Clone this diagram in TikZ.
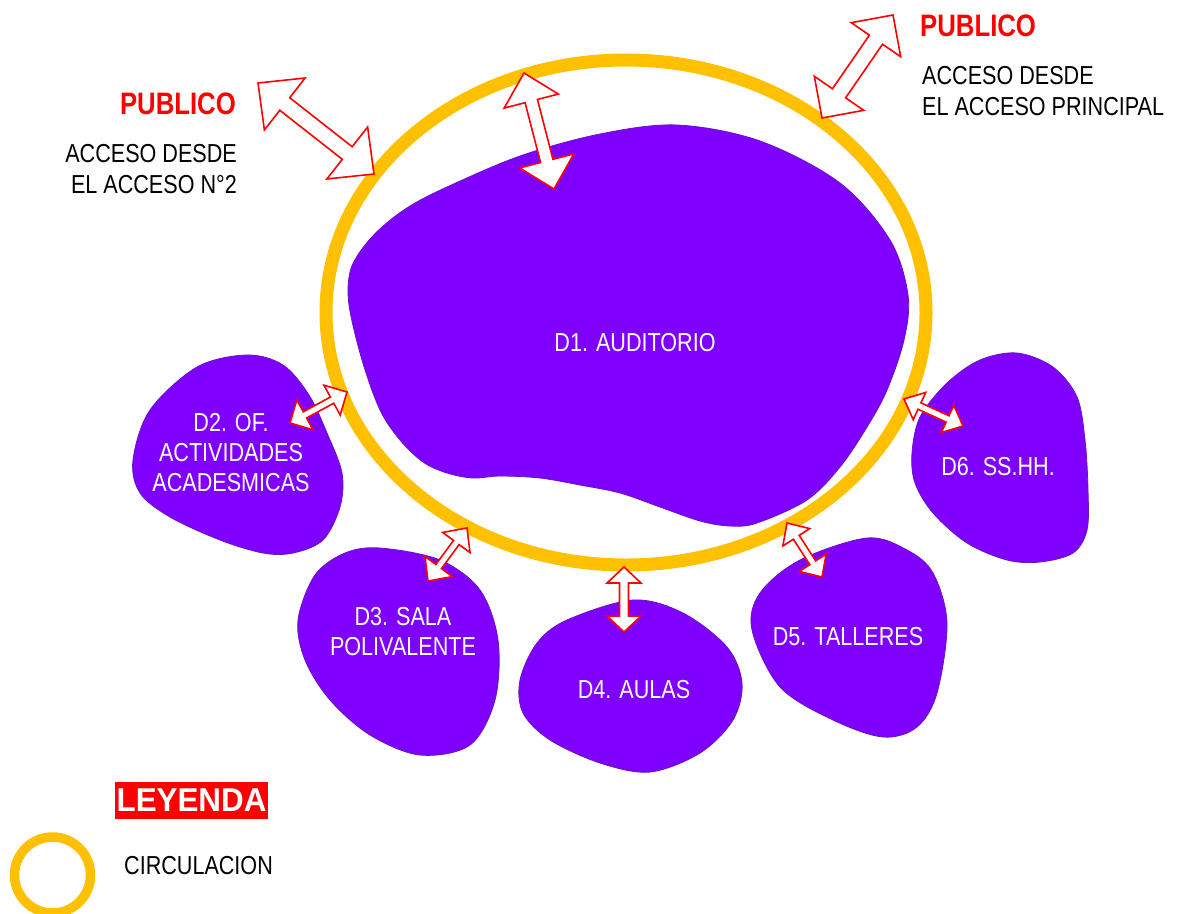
\documentclass[tikz,border=0pt]{standalone}
\usepackage{fontspec}
\setmainfont{Liberation Sans}[FakeStretch=0.83]
\newfontfamily\legfont{Liberation Sans}[FakeStretch=0.95]
\usetikzlibrary{calc}
\definecolor{blobfill}{RGB}{127,0,255}
\definecolor{blobedge}{RGB}{105,20,190}
\definecolor{ringcol}{RGB}{255,192,0}
\tikzset{
  blob/.style={fill=blobfill, draw=blobedge, line width=0.8pt},
  ringst/.style={draw=ringcol},
  dblarrow/.style={draw=red, fill=white, line width=1.6pt, line join=miter},
  lbl/.style={text=white, inner sep=0pt, align=center, font=\fontsize{26}{30}\selectfont},
  blk/.style={text=black, inner sep=0pt, font=\fontsize{26}{30.5}\selectfont},
  pub/.style={text=red, inner sep=0pt, font=\bfseries\fontsize{31}{34}\selectfont},
}
\newcommand{\blockarr}[5]{%
  \coordinate (#1-h) at ($(#1)!#3!(#2)$);
  \coordinate (#2-h) at ($(#2)!#3!(#1)$);
  \draw[dblarrow] (#1) -- ($(#1-h)!#4!90:(#2)$) -- ($(#1-h)!#5!90:(#2)$)
    -- ($(#2-h)!#5!-90:(#1)$) -- ($(#2-h)!#4!-90:(#1)$) -- (#2)
    -- ($(#2-h)!#4!90:(#1)$) -- ($(#2-h)!#5!90:(#1)$)
    -- ($(#1-h)!#5!-90:(#2)$) -- ($(#1-h)!#4!-90:(#2)$) -- cycle;}
\begin{document}
\begin{tikzpicture}[x=1pt, y=-1pt]
\path[use as bounding box] (0,0) rectangle (1177,913);

% D1 auditorio
\draw[blob] plot[smooth cycle, tension=0.55] coordinates {
 (677,125) (760,141) (840,183) (890,240) (908,295)
 (904,340) (887,390) (867,427) (840,467) (807,500) (757,523) (730,526)
 (700,521) (660,507) (620,493) (580,485) (540,478) (500,476) (473,478)
 (447,473) (423,462) (400,440) (380,410) (362,360)
 (349,305) (350,272) (362,249) (382,227) (410,206) (447,187) (520,156) (600,134)};
% D2
\draw[blob] plot[smooth cycle, tension=0.55] coordinates {
 (150,410) (197,367) (247,355) (283,365) (309,395) (327,433) (342,473)
 (340,507) (323,540) (293,553) (263,553) (220,540) (170,517) (140,493)
 (133,460)};
% D3
\draw[blob] plot[smooth cycle, tension=0.55] coordinates {
 (380,548) (440,560) (480,590) (498,640) (495,700) (470,745) (420,755)
 (370,735) (330,700) (305,660) (298,620) (315,575) (345,553)};
% D4
\draw[blob] plot[smooth cycle, tension=0.55] coordinates {
 (567,620) (633,600) (683,613) (727,647) (742,683) (733,720) (700,753)
 (650,772) (600,763) (550,740) (523,713) (520,680) (537,643)};
% D5
\draw[blob] plot[smooth cycle, tension=0.55] coordinates {
 (760,593) (800,560) (867,538) (907,550) (933,573) (947,623) (937,693)
 (917,727) (883,737) (833,720) (780,687) (752,630)};
% D6
\draw[blob] plot[smooth cycle, tension=0.55] coordinates {
 (947,383) (980,360) (1017,353) (1053,367) (1077,397) (1085,440) (1088,490)
 (1087,530) (1073,553) (1040,562) (1007,560) (967,543) (933,513) (915,483)
 (912,453) (920,417)};

% circulation ring
\draw[ringst, line width=13pt] (626,312.5) ellipse [x radius=300pt, y radius=252.5pt];

% labels
\node[lbl] (d1) at (635,343) {D1. AUDITORIO};
\node[lbl] (d2) at (231,452.5) {D2. OF.\\ACTIVIDADES\\ACADESMICAS};
\node[lbl] (d3) at (403,632) {D3. SALA\\POLIVALENTE};
\node[lbl] (d4) at (634,690) {D4. AULAS};
\node[lbl] (d5) at (848,637) {D5. TALLERES};
\node[lbl] (d6) at (998,467) {D6. SS.HH.};

% access texts
\node[pub, anchor=east] (pubL) at (236,104) {PUBLICO};
\node[blk, anchor=east, align=right] (accL) at (237,169) {ACCESO DESDE\\EL ACCESO N°2};
\node[pub, anchor=west] (pubR) at (920,26) {PUBLICO};
\node[blk, anchor=west, align=left] (accR) at (922,91) {ACCESO DESDE\\EL ACCESO PRINCIPAL};

% arrows
\coordinate (a1s) at (258,83);  \coordinate (a1e) at (374,174);
\coordinate (a2s) at (524,73);  \coordinate (a2e) at (554,189);
\coordinate (a3s) at (893,15);  \coordinate (a3e) at (822,118);
\coordinate (a4s) at (290,423); \coordinate (a4e) at (347,392);
\coordinate (a5s) at (467,528); \coordinate (a5e) at (428,581);
\coordinate (a6s) at (624,567); \coordinate (a6e) at (624,632);
\coordinate (a7s) at (787,523); \coordinate (a7e) at (822,577);
\coordinate (a8s) at (904,399); \coordinate (a8e) at (963,426);
\blockarr{a1s}{a1e}{34pt}{33pt}{8pt}
\blockarr{a2s}{a2e}{29pt}{28pt}{6.4pt}
\blockarr{a3s}{a3e}{30pt}{30pt}{8pt}
\blockarr{a4s}{a4e}{17pt}{17pt}{3.5pt}
\blockarr{a5s}{a5e}{18pt}{17pt}{3.5pt}
\blockarr{a6s}{a6e}{16pt}{17pt}{4.5pt}
\blockarr{a7s}{a7e}{17pt}{16pt}{3.5pt}
\blockarr{a8s}{a8e}{17pt}{15pt}{3.5pt}

% legend
\node[fill=red, text=white, inner sep=0pt, minimum width=153pt, minimum height=37pt,
      font=\legfont\bfseries\fontsize{33}{36}\selectfont] (ley) at (191.5,800.5) {LEYENDA};
\draw[ringst, line width=9.5pt] (52.5,875) circle [radius=38pt];
\node[blk, anchor=west] (circ) at (124,866) {CIRCULACION};
\end{tikzpicture}
\end{document}
